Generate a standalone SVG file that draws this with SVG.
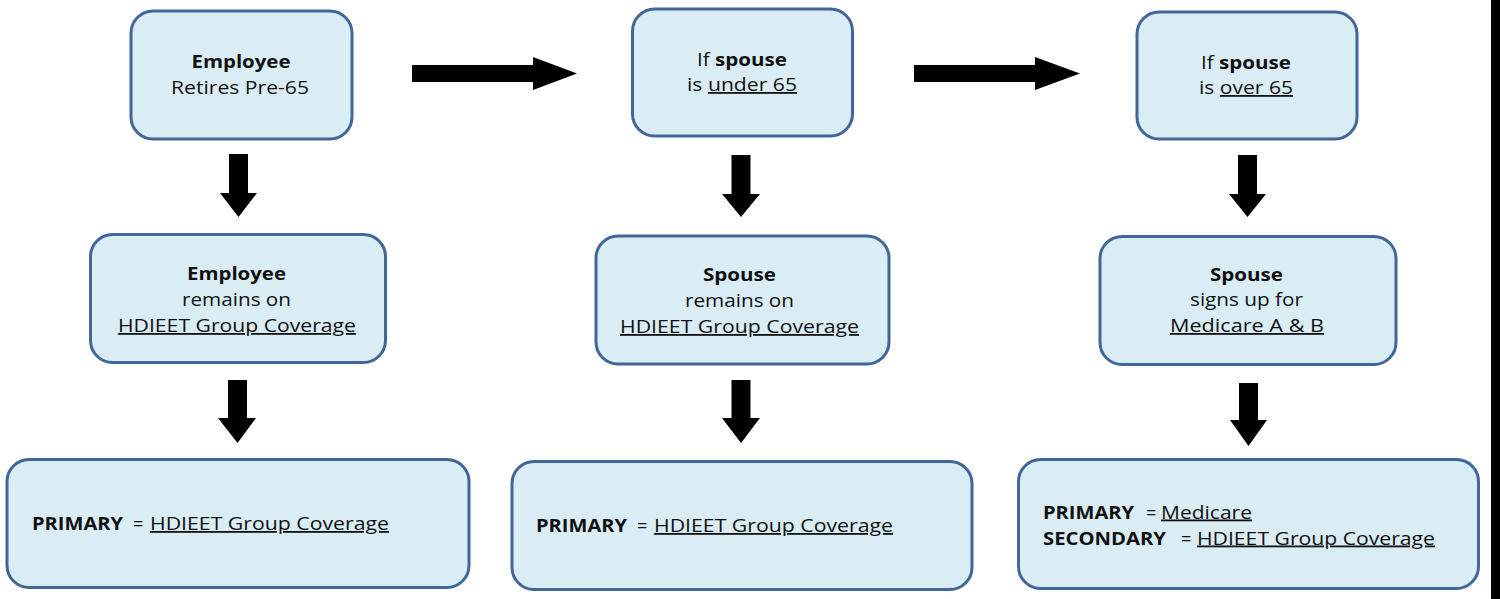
<svg xmlns="http://www.w3.org/2000/svg" width="1500" height="599" viewBox="0 0 1500 599">
<style>
.box{fill:#daedf4;stroke:#41679a;stroke-width:3}
.arr{fill:#000}
text{font-family:"Open Sans","Liberation Sans",sans-serif;font-size:18px;fill:#111}
.b{font-weight:bold}
.u{text-decoration:underline}
</style>
<rect width="1500" height="599" fill="#fff"/>
<rect x="1491" y="0" width="9" height="599" fill="#000"/>
<g id="connectors">
<polygon class="arr" points="412,65 533,65 533,57 577,73.5 533,90 533,82 412,82"/>
<polygon class="arr" points="914,65 1035,65 1035,57 1080,73.5 1035,90 1035,82 914,82"/>
<polygon class="arr" points="229,154 248,154 248,193 257,193 238.5,217 220,193 229,193"/>
<polygon class="arr" points="228,380 247,380 247,418 256,418 237.5,443 218,418 228,418"/>
<polygon class="arr" points="731.5,155 750.5,155 750.5,194 760,194 741,217 722,194 731.5,194"/>
<polygon class="arr" points="731.5,380 750.5,380 750.5,418 760,418 741,443 722,418 731.5,418"/>
<polygon class="arr" points="1238,155 1257,155 1257,194 1266,194 1247.5,217 1229,194 1238,194"/>
<polygon class="arr" points="1239,383 1258,383 1258,420 1267,420 1248.5,446 1230,420 1239,420"/>
</g>
<g id="n-employee-retires">
<rect class="box" x="131" y="11" width="221" height="128" rx="22"/>
<text class="b" x="191.5" y="68" textLength="99" lengthAdjust="spacingAndGlyphs">Employee</text>
<text x="171" y="94" textLength="138" lengthAdjust="spacingAndGlyphs">Retires Pre-65</text>
</g>
<g id="n-spouse-under">
<rect class="box" x="632.5" y="9" width="220" height="127" rx="22"/>
<text x="697" y="66" textLength="90" lengthAdjust="spacingAndGlyphs">If <tspan class="b">spouse</tspan></text>
<text x="687" y="91" textLength="110" lengthAdjust="spacingAndGlyphs">is <tspan class="u">under 65</tspan></text>
</g>
<g id="n-spouse-over">
<rect class="box" x="1137" y="12" width="220" height="127" rx="22"/>
<text x="1201" y="69" textLength="90" lengthAdjust="spacingAndGlyphs">If <tspan class="b">spouse</tspan></text>
<text x="1199" y="94" textLength="94" lengthAdjust="spacingAndGlyphs">is <tspan class="u">over 65</tspan></text>
</g>
<g id="n-employee-remains">
<rect class="box" x="90.5" y="234.5" width="295" height="128" rx="22"/>
<text class="b" x="187" y="280" textLength="99" lengthAdjust="spacingAndGlyphs">Employee</text>
<text x="182" y="306" textLength="109" lengthAdjust="spacingAndGlyphs">remains on</text>
<text class="u" x="118" y="332" textLength="238" lengthAdjust="spacingAndGlyphs">HDIEET Group Coverage</text>
</g>
<g id="n-spouse-remains">
<rect class="box" x="596" y="236" width="293" height="128" rx="22"/>
<text class="b" x="703" y="281" textLength="73" lengthAdjust="spacingAndGlyphs">Spouse</text>
<text x="685" y="307" textLength="109" lengthAdjust="spacingAndGlyphs">remains on</text>
<text class="u" x="620" y="333" textLength="239" lengthAdjust="spacingAndGlyphs">HDIEET Group Coverage</text>
</g>
<g id="n-spouse-medicare">
<rect class="box" x="1100" y="236.5" width="296" height="128" rx="22"/>
<text class="b" x="1210" y="281" textLength="73" lengthAdjust="spacingAndGlyphs">Spouse</text>
<text x="1190" y="306" textLength="113" lengthAdjust="spacingAndGlyphs">signs up for</text>
<text class="u" x="1170" y="332" textLength="154" lengthAdjust="spacingAndGlyphs">Medicare A &amp; B</text>
</g>
<g id="n-primary-employee">
<rect class="box" x="7" y="459.5" width="462" height="128" rx="22"/>
<text class="b" x="32" y="530" textLength="91" lengthAdjust="spacingAndGlyphs">PRIMARY</text>
<text x="133" y="530">=</text>
<text class="u" x="150" y="530" textLength="239" lengthAdjust="spacingAndGlyphs">HDIEET Group Coverage</text>
</g>
<g id="n-primary-spouse">
<rect class="box" x="512" y="461.5" width="460" height="128" rx="22"/>
<text class="b" x="536" y="532" textLength="91" lengthAdjust="spacingAndGlyphs">PRIMARY</text>
<text x="637" y="532">=</text>
<text class="u" x="654" y="532" textLength="239" lengthAdjust="spacingAndGlyphs">HDIEET Group Coverage</text>
</g>
<g id="n-primary-medicare">
<rect class="box" x="1018.5" y="459.5" width="460" height="129" rx="22"/>
<text class="b" x="1043" y="518.5" textLength="91" lengthAdjust="spacingAndGlyphs">PRIMARY</text>
<text x="1146" y="518.5">=</text>
<text class="u" x="1161" y="518.5" textLength="91" lengthAdjust="spacingAndGlyphs">Medicare</text>
<text class="b" x="1043" y="544.5" textLength="123" lengthAdjust="spacingAndGlyphs">SECONDARY</text>
<text x="1181" y="544.5">=</text>
<text class="u" x="1197" y="544.5" textLength="238" lengthAdjust="spacingAndGlyphs">HDIEET Group Coverage</text>
</g>
</svg>
